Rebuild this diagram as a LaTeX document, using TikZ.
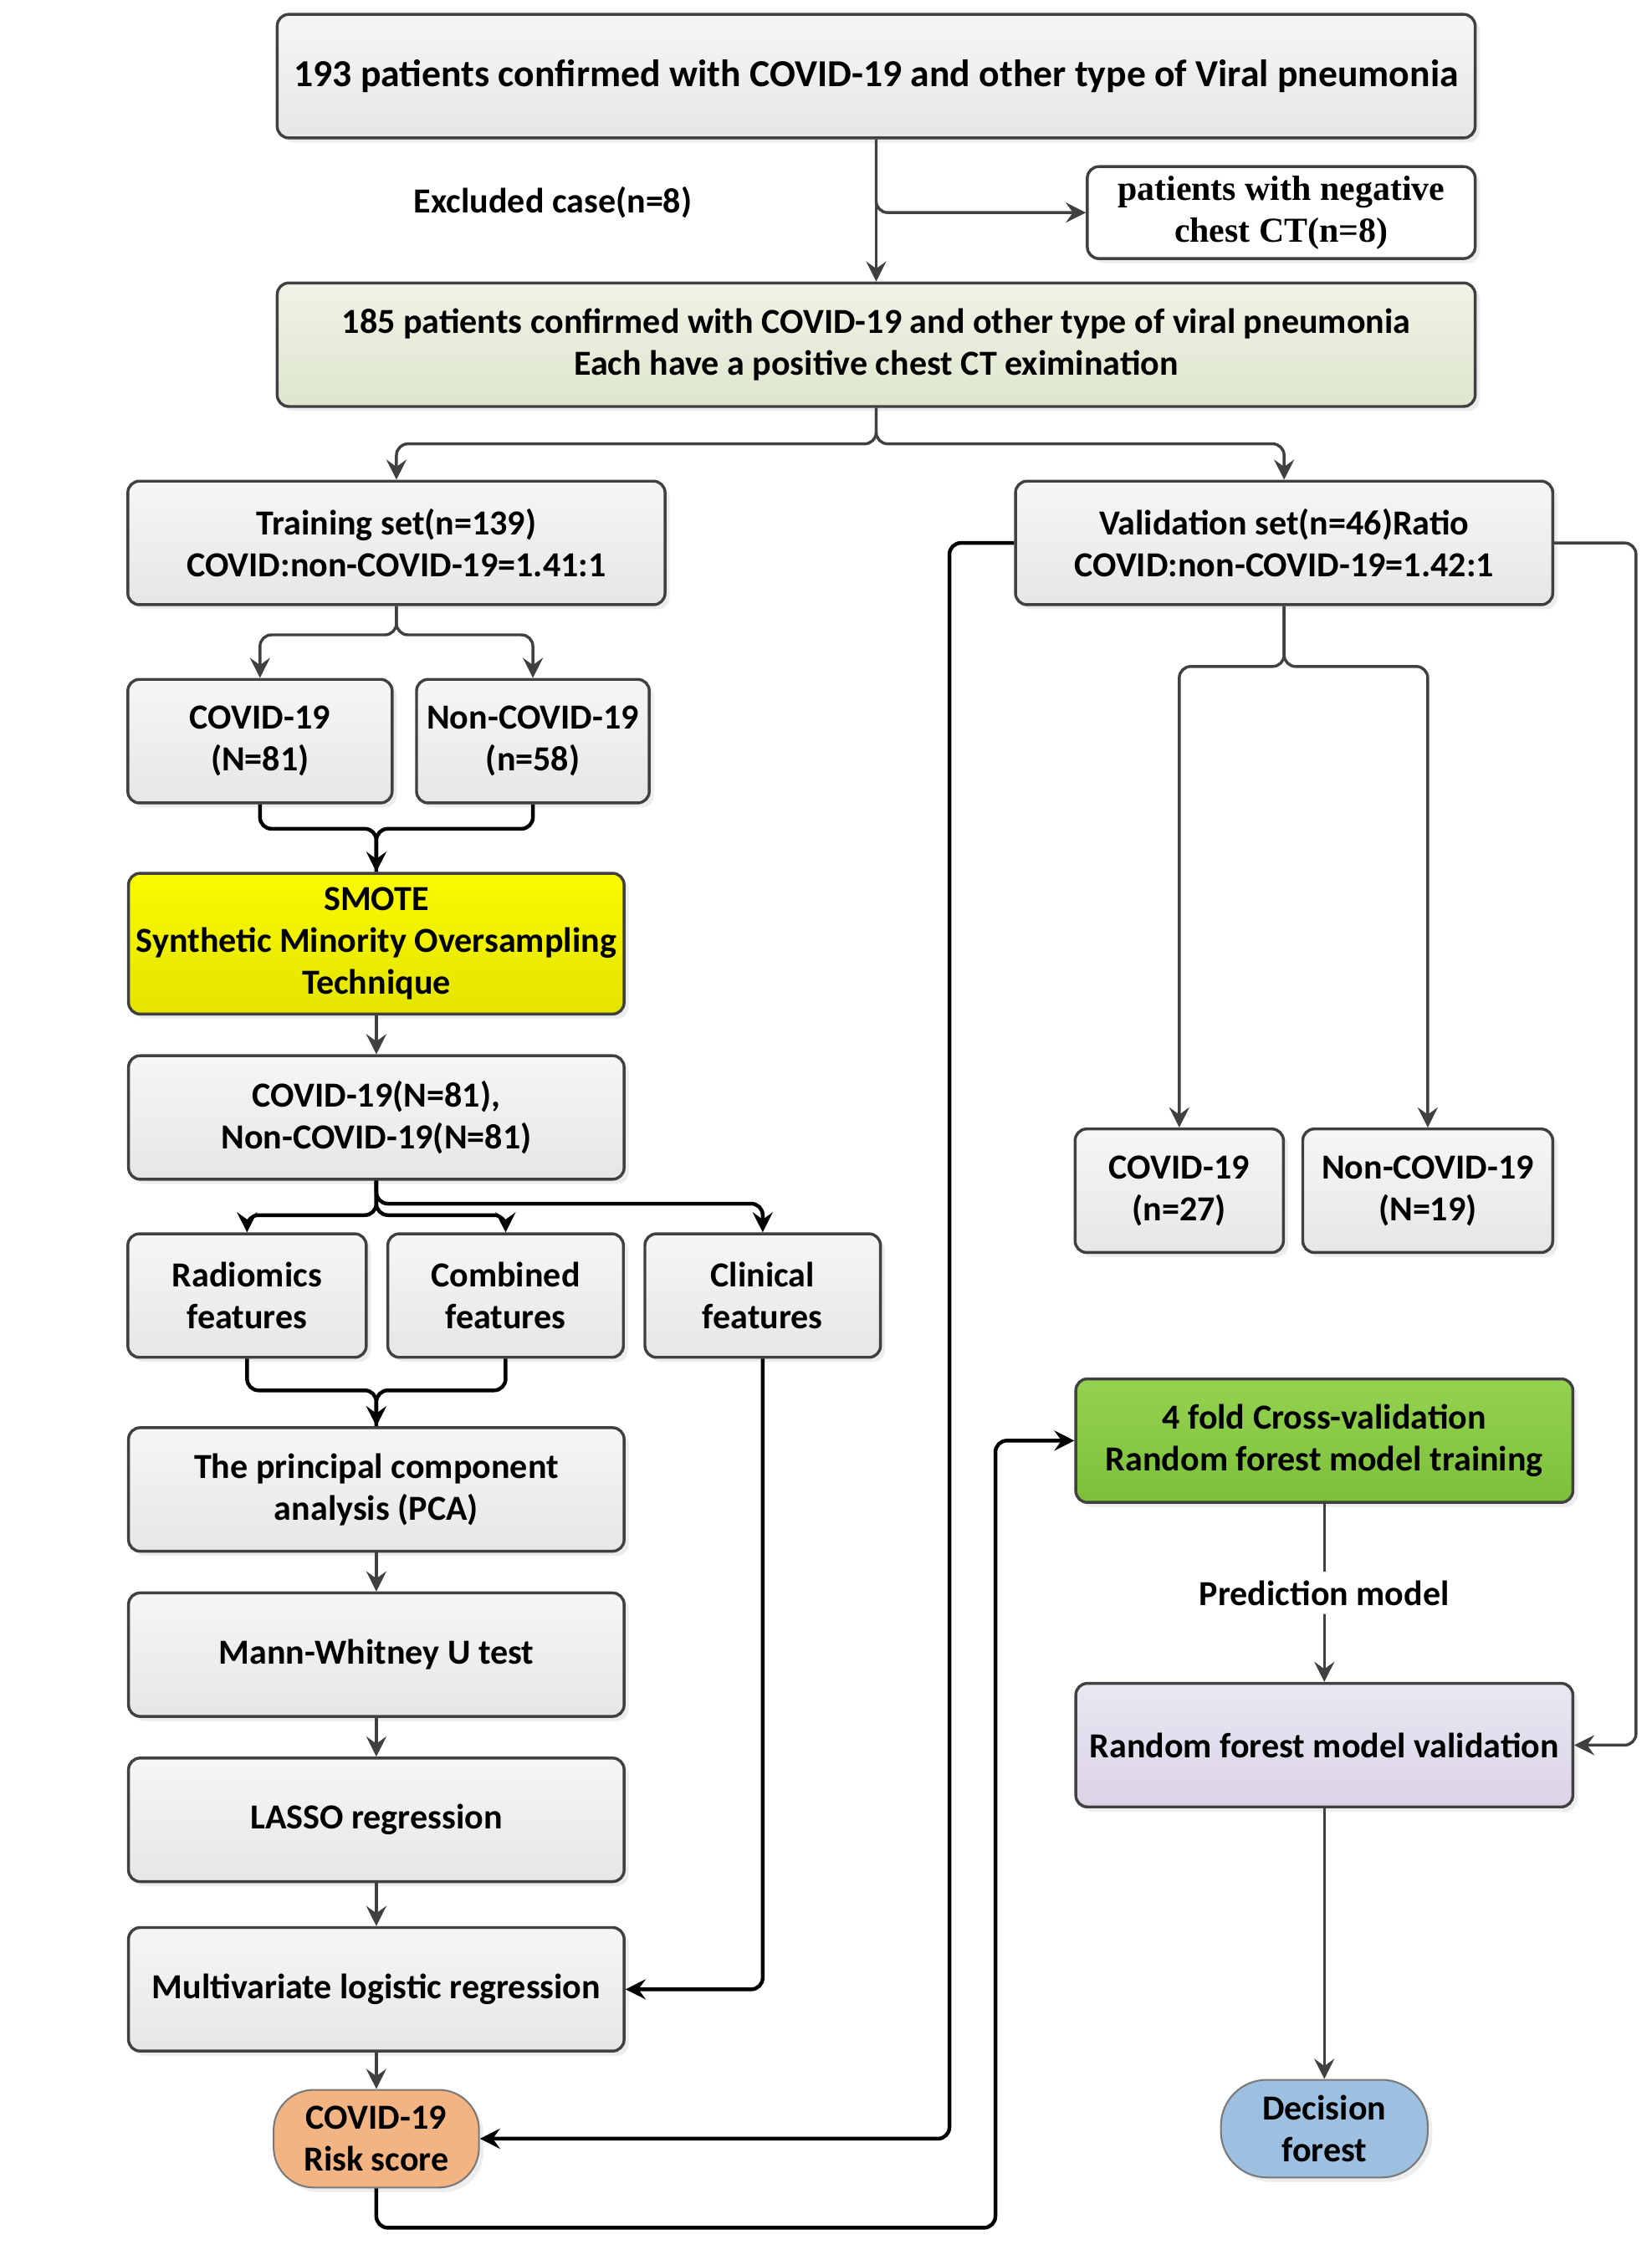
\documentclass[tikz,border=0pt]{standalone}
\usepackage{fontspec}
\setmainfont{Carlito}
\newfontfamily\tnrfont{Liberation Serif}
\usetikzlibrary{positioning,arrows.meta,shadows}
\definecolor{BoxLine}{RGB}{64,64,64}
\definecolor{GrayTop}{RGB}{246,246,246}
\definecolor{GrayBot}{RGB}{230,230,230}
\definecolor{OliveTop}{RGB}{240,243,230}
\definecolor{OliveBot}{RGB}{222,230,206}
\definecolor{SmoteTop}{RGB}{250,250,0}
\definecolor{SmoteBot}{RGB}{228,228,0}
\definecolor{CVTop}{RGB}{148,210,80}
\definecolor{CVBot}{RGB}{124,192,58}
\definecolor{LavTop}{RGB}{234,230,242}
\definecolor{LavBot}{RGB}{218,212,230}
\definecolor{RiskFill}{RGB}{243,180,132}
\definecolor{DecFill}{RGB}{158,192,224}

\begin{document}
\begin{tikzpicture}[x=0.5pt,y=-0.5pt]
				\tikzset{
					b/.style={rectangle, rounded corners=4pt, draw=BoxLine, line width=1pt,
						align=center, inner sep=2pt, minimum height=43pt,
						font=\fontsize{12.25}{14.5}\selectfont\bfseries,
						drop shadow={shadow xshift=1.6pt, shadow yshift=-1.6pt, fill=black!14},
						top color=GrayTop, bottom color=GrayBot},
					t/.style={font=\fontsize{12.25}{14.5}\selectfont\bfseries, inner sep=2pt},
					ga/.style={-{Stealth[length=7pt,width=7pt,inset=2.5pt]}, draw=BoxLine,
						line width=1pt, rounded corners=4pt},
					gl/.style={draw=BoxLine, line width=1pt, rounded corners=4pt},
					ka/.style={-{Stealth[length=7pt,width=7pt,inset=2.5pt]}, draw=black,
						line width=1.3pt, rounded corners=4pt},
					kl/.style={draw=black, line width=1.3pt, rounded corners=4pt}
				}
				\useasboundingbox (0,0) rectangle (1150,1570);
				
				% ======= Nodes =======
				\node[b, minimum width=417pt, font=\fontsize{13.3}{15}\selectfont\bfseries] (top) at (610,53)
					{193 patients confirmed with COVID-19 and other type of Viral pneumonia};
				\node[t] (excl) at (385,141) {Excluded case(n=8)};
				\node[b, minimum width=135pt, minimum height=32pt, top color=white, bottom color=white,
					font=\fontsize{12.2}{14.5}\selectfont\tnrfont\bfseries] (neg) at (892,148)
					{patients with negative\\chest CT(n=8)};
				\node[b, minimum width=417pt, top color=OliveTop, bottom color=OliveBot] (pos) at (610,240)
					{185 patients confirmed with COVID-19 and other type of viral pneumonia\\
					 Each have a positive chest CT eximination};
				\node[b, minimum width=187pt] (train) at (276,378)
					{Training set(n=139)\\COVID:non-COVID-19=1.41:1};
				\node[b, minimum width=187pt] (valid) at (894,378)
					{Validation set(n=46)Ratio\\COVID:non-COVID-19=1.42:1};
				\node[b, minimum width=92pt] (tcov) at (181,516) {COVID-19\\(N=81)};
				\node[b, minimum width=81pt] (tnon) at (371,516) {Non-COVID-19\\(n=58)};
				\node[b, minimum width=172.5pt, minimum height=49pt, top color=SmoteTop, bottom color=SmoteBot]
					(smote) at (262,657) {SMOTE\\Synthetic Minority Oversampling\\Technique};
				\node[b, minimum width=172.5pt] (bal) at (262,778) {COVID-19(N=81),\\Non-COVID-19(N=81)};
				\node[b, minimum width=83pt] (radio) at (172,902) {Radiomics\\features};
				\node[b, minimum width=82pt] (comb) at (352,902) {Combined\\features};
				\node[b, minimum width=82pt] (clin) at (531,902) {Clinical\\features};
				\node[b, minimum width=172.5pt] (pca) at (262,1037) {The principal component\\analysis (PCA)};
				\node[b, minimum width=172.5pt] (mann) at (262,1152) {Mann-Whitney U test};
				\node[b, minimum width=172.5pt] (lasso) at (262,1267) {LASSO regression};
				\node[b, minimum width=172.5pt] (multi) at (262,1385) {Multivariate logistic regression};
				\node[b, minimum width=71.5pt, minimum height=34pt, rounded corners=14pt, draw=BoxLine!70,
					line width=0.6pt, top color=RiskFill, bottom color=RiskFill] (risk) at (262,1489)
					{COVID-19\\Risk score};
				\node[b, minimum width=72.5pt] (vcov) at (821,829) {COVID-19\\(n=27)};
				\node[b, minimum width=87pt] (vnon) at (994,829) {Non-COVID-19\\(N=19)};
				\node[b, minimum width=173pt, top color=CVTop, bottom color=CVBot] (cv) at (922,1003)
					{4 fold Cross-validation\\Random forest model training};
				\node[b, minimum width=173pt, top color=LavTop, bottom color=LavBot] (rfval) at (922,1215)
					{Random forest model validation};
				\node[b, minimum width=72pt, minimum height=34pt, rounded corners=16pt, draw=BoxLine!70,
					line width=0.6pt, top color=DecFill, bottom color=DecFill] (dec) at (922,1482)
					{Decision\\forest};
				\coordinate (lp) at (693,1551);
				
				% ======= Connectors =======
				\draw[ga] (top.south) -- (pos.north);
				\draw[ga] (top.south) |- (neg.west);
				\draw[ga] (pos.south) -- ++(0,25) -| (train.north);
				\draw[ga] (pos.south) -- ++(0,25) -| (valid.north);
				\draw[ga] (train.south) -- ++(0,20) -| (tcov.north);
				\draw[ga] (train.south) -- ++(0,20) -| (tnon.north);
				\draw[ka] (tcov.south) -- ++(0,17) -| (smote.north);
				\draw[kl] (tnon.south) -- ++(0,17) -| (smote.north);
				\draw[ga] (smote.south) -- (bal.north);
				\draw[ka] (bal.south) -- ++(0,24) -| (radio.north);
				\draw[ka] (bal.south) -- ++(0,24) -| (comb.north);
				\draw[ka] (bal.south) -- ++(0,16) -| (clin.north);
				\draw[ka] (radio.south) -- ++(0,22) -| (pca.north);
				\draw[kl] (comb.south) -- ++(0,22) -| (pca.north);
				\draw[ga] (pca.south) -- (mann.north);
				\draw[ga] (mann.south) -- (lasso.north);
				\draw[ga] (lasso.south) -- (multi.north);
				\draw[ka] (clin.south) |- (multi.east);
				\draw[ga] (multi.south) -- (risk.north);
				\draw[ka] (valid.west) -- ++(-45,0) |- (risk.east);
				\draw[ka] (risk.south) |- (lp) |- (cv.west);
				\draw[ga] (valid.south) -- ++(0,42) -| (vcov.north);
				\draw[ga] (valid.south) -- ++(0,42) -| (vnon.north);
				\draw[ga] (cv.south) -- (rfval.north) node[midway, t, fill=white, inner sep=3pt] {Prediction model};
				\draw[ga] (valid.east) -- ++(57,0) |- (rfval.east);
				\draw[ga] (rfval.south) -- (dec.north);
			\end{tikzpicture}
\end{document}
